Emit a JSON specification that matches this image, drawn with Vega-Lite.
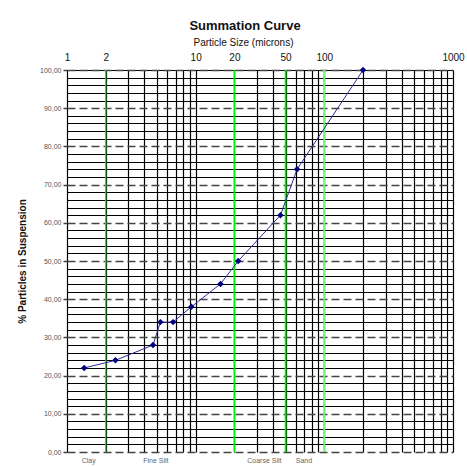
{
  "$schema": "https://vega.github.io/schema/vega-lite/v6.json",
  "width": 386,
  "height": 382,
  "autosize": {"type": "none"},
  "padding": {"left": 67, "top": 70, "right": 14, "bottom": 15},
  "background": "white",
  "config": {"view": {"stroke": null}, "font": "Liberation Sans"},
  "title": {"text": "Summation Curve", "fontSize": 13, "fontWeight": "bold", "color": "#111111", "anchor": "middle", "dx": -15, "offset": 4},
  "datasets": {
    "curve": [
      {"size": 1.36, "percent": 22},
      {"size": 2.38, "percent": 24},
      {"size": 4.66, "percent": 28},
      {"size": 5.32, "percent": 34},
      {"size": 6.67, "percent": 34},
      {"size": 9.26, "percent": 38},
      {"size": 15.6, "percent": 44},
      {"size": 21.4, "percent": 50},
      {"size": 45.6, "percent": 62},
      {"size": 61.4, "percent": 74},
      {"size": 200, "percent": 100}
    ],
    "bounds": [
      {"size": 2, "boundary": "Clay | Fine Silt"},
      {"size": 20, "boundary": "Fine Silt | Coarse Silt"},
      {"size": 50, "boundary": "Coarse Silt | Sand"},
      {"size": 100, "boundary": "Sand 100"}
    ]
  },
  "layer": [
    {
      "data": {"name": "bounds"},
      "mark": {"type": "rule"},
      "encoding": {
        "x": {
          "field": "size", "type": "quantitative",
          "scale": {"type": "log", "domain": [1, 1000], "nice": false},
          "axis": {
            "orient": "top",
            "values": [1,2,3,4,5,6,7,8,9,10,20,30,40,50,60,70,80,90,100,200,300,400,500,600,700,800,900,1000],
            "grid": true, "gridColor": "#000000", "gridWidth": 1.2, "gridOpacity": 1,
            "labels": false, "ticks": false, "domain": false, "title": null
          }
        },
        "color": {
          "field": "boundary", "type": "nominal", "legend": null,
          "scale": {"domain": ["Clay | Fine Silt", "Fine Silt | Coarse Silt", "Coarse Silt | Sand", "Sand 100"], "range": ["#22dd22", "#00ee00", "#00ee00", "#77ee77"]}
        },
        "strokeWidth": {
          "field": "boundary", "type": "nominal", "legend": null,
          "scale": {"domain": ["Clay | Fine Silt", "Fine Silt | Coarse Silt", "Coarse Silt | Sand", "Sand 100"], "range": [1.3, 2, 2, 1.3]}
        }
      }
    },
    {
      "data": {"name": "curve"},
      "mark": {"type": "line", "color": "#2d2d9a", "strokeWidth": 1},
      "encoding": {
        "x": {
          "field": "size", "type": "quantitative",
          "scale": {"type": "log", "domain": [1, 1000], "nice": false},
          "axis": {
            "orient": "top",
            "values": [1, 2, 10, 20, 50, 100, 1000],
            "grid": false, "ticks": false, "domain": false,
            "labelFontSize": 10, "labelColor": "#111111", "labelPadding": 8, "labelFlush": false, "labelOverlap": false,
            "format": "d",
            "title": "Particle Size (microns)", "titleFontSize": 10, "titleFontWeight": "normal", "titleColor": "#111111", "titlePadding": 5, "titleX": 176
          }
        },
        "y": {
          "field": "percent", "type": "quantitative",
          "scale": {"domain": [0, 100], "nice": false},
          "axis": {
            "orient": "left",
            "values": [2,4,6,8,12,14,16,18,22,24,26,28,32,34,36,38,42,44,46,48,52,54,56,58,62,64,66,68,72,74,76,78,82,84,86,88,92,94,96,98,100],
            "grid": true, "gridColor": "#000000", "gridWidth": 1, "gridOpacity": 1,
            "labels": false, "ticks": false, "domain": false, "title": null
          }
        }
      }
    },
    {
      "data": {"name": "curve"},
      "mark": {"type": "point", "shape": "diamond", "filled": true, "color": "#000080", "size": 42, "opacity": 1},
      "encoding": {
        "x": {
          "field": "size", "type": "quantitative",
          "scale": {"type": "log", "domain": [1, 1000], "nice": false},
          "axis": {
            "orient": "bottom",
            "values": [1.46, 4.86, 33.9, 68.8],
            "labelExpr": "datum.value < 2 ? 'Clay' : datum.value < 10 ? 'Fine Silt' : datum.value < 50 ? 'Coarse Silt' : 'Sand'",
            "grid": false, "ticks": false, "domain": false, "title": null,
            "labelFontSize": 7, "labelColor": "#666666", "labelPadding": 4, "labelFlush": false, "labelOverlap": false
          }
        },
        "y": {
          "field": "percent", "type": "quantitative",
          "scale": {"domain": [0, 100], "nice": false},
          "axis": {
            "orient": "left",
            "values": [0, 10, 20, 30, 40, 50, 60, 70, 80, 90, 100],
            "grid": true, "gridColor": "#444444", "gridWidth": 1.5, "gridDash": [8, 4], "gridOpacity": 1,
            "ticks": true, "tickSize": 4, "tickColor": "#444444", "tickWidth": 1.5,
            "domain": false,
            "labelExpr": "replace(format(datum.value, '.2f'), '.', ',')",
            "labelFontSize": 7, "labelColor": "#555555", "labelPadding": 2, "labelFlush": false, "labelOverlap": false,
            "title": "% Particles in Suspension", "titleFontSize": 10, "titleFontWeight": "bold", "titleColor": "#111111", "titlePadding": 12
          }
        }
      }
    }
  ],
  "resolve": {"axis": {"x": "independent", "y": "independent"}}
}
